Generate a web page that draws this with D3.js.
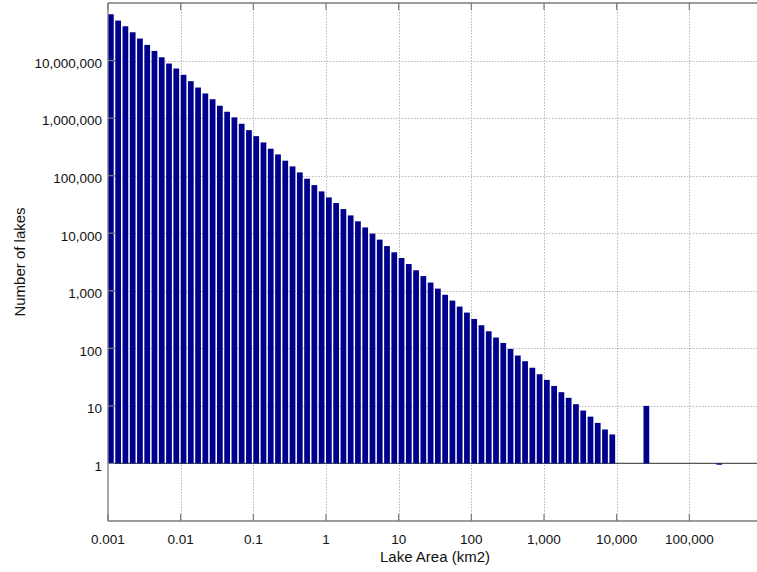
<!DOCTYPE html>
<html>
<head>
<meta charset="utf-8">
<script src="https://cdn.jsdelivr.net/npm/d3@7"></script>
<style>
  html, body { margin: 0; padding: 0; background: #ffffff; }
  svg { display: block; }
  text { font-family: "Liberation Sans", Arial, Helvetica, sans-serif; fill: #111; }
</style>
</head>
<body>
<svg id="chart" width="757" height="572"></svg>
<script>
// ---- Data ----
// log10 of the lower edge of each area bin (km2)
const binLog10 = [
  -3.0,-2.9,-2.8,-2.7,-2.6,-2.5,-2.4,-2.3,-2.2,-2.1,
  -2.0,-1.9,-1.8,-1.7,-1.6,-1.5,-1.4,-1.3,-1.2,-1.1,
  -1.0,-0.9,-0.8,-0.7,-0.6,-0.5,-0.4,-0.3,-0.2,-0.1,
   0.0, 0.1, 0.2, 0.3, 0.4, 0.5, 0.6, 0.7, 0.8, 0.9,
   1.0, 1.1, 1.2, 1.3, 1.4, 1.5, 1.6, 1.7, 1.8, 1.9,
   2.0, 2.1, 2.2, 2.3, 2.4, 2.5, 2.6, 2.7, 2.8, 2.9,
   3.0, 3.1, 3.2, 3.3, 3.4, 3.5, 3.6, 3.7, 3.8, 3.9
];
// number of lakes in each bin
const lakeCounts = [
  63700000, 49500000, 39400000, 31000000, 24100000, 18700000, 14700000, 11400000, 8880000, 7270000,
  5650000, 4380000, 3400000, 2680000, 2130000, 1640000, 1290000, 1030000, 797000, 618000,
  486000, 378000, 294000, 234000, 182000, 145000, 114000, 88500, 68500, 53300,
  41900, 33400, 26300, 20400, 16100, 12600, 9820, 7730, 5980, 4660,
  3710, 2920, 2270, 1800, 1390, 1090, 851, 675, 531, 418,
  324, 252, 198, 154, 124, 97.5, 75, 59.7, 46, 35.5,
  28.3, 22.2, 17.3, 13.8, 10.7, 8.3, 6.5, 5.07, 3.89, 3.19
];
// the few largest lakes, drawn as isolated bars
const bigLakeAreas = [23400, 236000];
const bigLakeCounts = [10, 0.95];

const xTickValues = [0.001, 0.01, 0.1, 1, 10, 100, 1000, 10000, 100000];
const xTickLabels = ["0.001", "0.01", "0.1", "1", "10", "100", "1,000", "10,000", "100,000"];
const yTickValues = [1, 10, 100, 1000, 10000, 100000, 1000000, 10000000];
const yTickLabels = ["1", "10", "100", "1,000", "10,000", "100,000", "1,000,000", "10,000,000"];

const xTitle = "Lake Area (km2)";
const yTitle = "Number of lakes";

(function () {
// ---- Layout ----
const pL = 108, pT = 3, pR = 762, pB = 521;
const barFrac = 0.079; // bar width in decades

const svg = d3.select("#chart");
const x = d3.scaleLog().domain([0.001, 1000000]).range([pL, pR]);
const y = d3.scaleLog().domain([0.1, 100000000]).range([pB, pT]);

const bars = binLog10.map((e, i) => ({ lo: Math.pow(10, e), v: lakeCounts[i] }))
  .concat(bigLakeAreas.map((a, i) => ({ lo: a, v: bigLakeCounts[i] })));

// grid
const grid = svg.append("g");
grid.selectAll("line.gx").data(xTickValues.slice(1)).join("line")
  .attr("x1", d => Math.round(x(d)) + 0.5).attr("x2", d => Math.round(x(d)) + 0.5)
  .attr("y1", pT).attr("y2", pB)
  .attr("stroke", "#b8b8b8").attr("stroke-width", 1)
  .attr("stroke-dasharray", "1.5,1.5");
grid.selectAll("line.gy").data(yTickValues.slice(1)).join("line")
  .attr("x1", pL).attr("x2", pR)
  .attr("y1", d => Math.round(y(d)) + 0.5).attr("y2", d => Math.round(y(d)) + 0.5)
  .attr("stroke", "#b8b8b8").attr("stroke-width", 1)
  .attr("stroke-dasharray", "1.5,1.5");

// baseline at 1
svg.append("line")
  .attr("x1", pL).attr("x2", pR)
  .attr("y1", y(1)).attr("y2", y(1))
  .attr("stroke", "#555").attr("stroke-width", 1.2);

// bars
svg.append("g").selectAll("rect").data(bars).join("rect")
  .attr("x", d => x(d.lo))
  .attr("width", d => x(d.lo * Math.pow(10, barFrac)) - x(d.lo))
  .attr("y", d => Math.min(y(d.v), y(1)))
  .attr("height", d => Math.abs(y(1) - y(d.v)))
  .attr("fill", "#00008c");

// frame
const frame = svg.append("g").attr("stroke", "#7a7a7a").attr("stroke-width", 1.3).attr("fill", "none");
frame.append("line").attr("x1", pL).attr("x2", pR).attr("y1", pT).attr("y2", pT);
frame.append("line").attr("x1", pL).attr("x2", pR).attr("y1", pB).attr("y2", pB);
frame.append("line").attr("x1", pL).attr("x2", pL).attr("y1", pT).attr("y2", pB);

// ticks (inward)
const tk = svg.append("g").attr("stroke", "#7a7a7a").attr("stroke-width", 1.2);
xTickValues.forEach(v => {
  tk.append("line").attr("x1", x(v)).attr("x2", x(v)).attr("y1", pB).attr("y2", pB - 7);
  tk.append("line").attr("x1", x(v)).attr("x2", x(v)).attr("y1", pT).attr("y2", pT + 7);
});
yTickValues.forEach(v => {
  tk.append("line").attr("x1", pL).attr("x2", pL + 7).attr("y1", y(v)).attr("y2", y(v));
});

// tick labels
svg.append("g").selectAll("text").data(xTickValues).join("text")
  .attr("x", d => x(d)).attr("y", 544)
  .attr("text-anchor", "middle")
  .style("font-size", "13.5px")
  .text((d, i) => xTickLabels[i]);
svg.append("g").selectAll("text").data(yTickValues).join("text")
  .attr("x", 102).attr("y", d => y(d) + 7.3)
  .attr("text-anchor", "end")
  .style("font-size", "13.5px")
  .text((d, i) => yTickLabels[i]);

// titles
svg.append("text")
  .attr("x", (pL + pR) / 2).attr("y", 562)
  .attr("text-anchor", "middle").style("font-size", "15px")
  .text(xTitle);
svg.append("text")
  .attr("transform", `translate(25, ${(pT + pB) / 2}) rotate(-90)`)
  .attr("text-anchor", "middle").style("font-size", "15px")
  .text(yTitle);
})();
</script>
</body>
</html>
